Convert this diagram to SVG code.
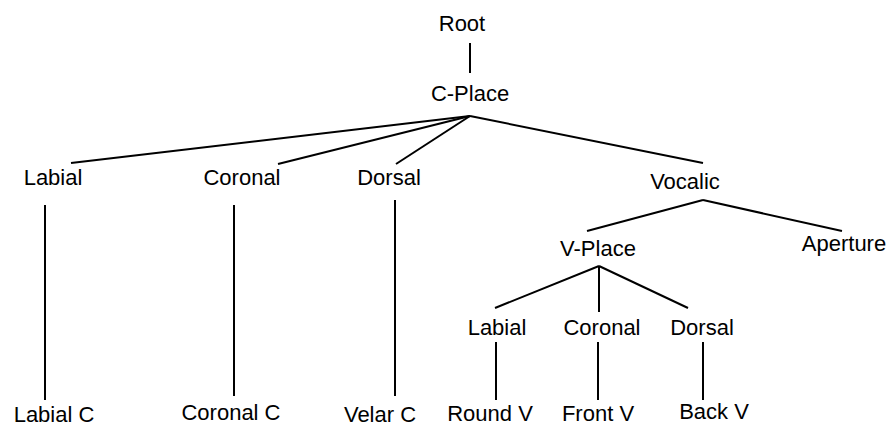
<svg xmlns="http://www.w3.org/2000/svg" width="894" height="427" viewBox="0 0 894 427">
<style>
text{font-family:"Liberation Sans",Arial,sans-serif;font-size:22px;fill:#000;text-anchor:middle}
line{stroke:#000;stroke-width:2;stroke-linecap:butt}
</style>
<rect width="894" height="427" fill="#fff"/>
<g id="connectors">
<line x1="470" y1="43" x2="470" y2="73"/>
<line x1="470" y1="116" x2="71" y2="163"/>
<line x1="470" y1="116" x2="278" y2="164"/>
<line x1="470" y1="116" x2="396" y2="164"/>
<line x1="470" y1="116" x2="703" y2="163"/>
<line x1="45" y1="205" x2="45" y2="400"/>
<line x1="234" y1="205" x2="234" y2="396"/>
<line x1="395" y1="200" x2="395" y2="396"/>
<line x1="703" y1="200" x2="587" y2="231"/>
<line x1="703" y1="200" x2="842" y2="231"/>
<line x1="599" y1="266" x2="495" y2="308"/>
<line x1="599" y1="266" x2="599" y2="312"/>
<line x1="599" y1="266" x2="688" y2="308"/>
<line x1="496" y1="342" x2="496" y2="400"/>
<line x1="598" y1="342" x2="598" y2="400"/>
<line x1="703" y1="342" x2="703" y2="400"/>
</g>
<g id="root"><text x="462" y="31">Root</text></g>
<g id="cplace"><text x="470" y="101">C-Place</text></g>
<g id="labial"><text x="53" y="185">Labial</text></g>
<g id="coronal"><text x="242" y="185">Coronal</text></g>
<g id="dorsal"><text x="389" y="185">Dorsal</text></g>
<g id="vocalic"><text x="685" y="189">Vocalic</text></g>
<g id="vplace"><text x="598" y="256">V-Place</text></g>
<g id="aperture"><text x="844" y="251">Aperture</text></g>
<g id="vlabial"><text x="497" y="335">Labial</text></g>
<g id="vcoronal"><text x="602" y="335">Coronal</text></g>
<g id="vdorsal"><text x="702" y="335">Dorsal</text></g>
<g id="labialc"><text x="54" y="422">Labial C</text></g>
<g id="coronalc"><text x="231" y="420">Coronal C</text></g>
<g id="velarc"><text x="380" y="422">Velar C</text></g>
<g id="roundv"><text x="490" y="421">Round V</text></g>
<g id="frontv"><text x="598" y="421">Front V</text></g>
<g id="backv"><text x="714" y="419">Back V</text></g>
</svg>
